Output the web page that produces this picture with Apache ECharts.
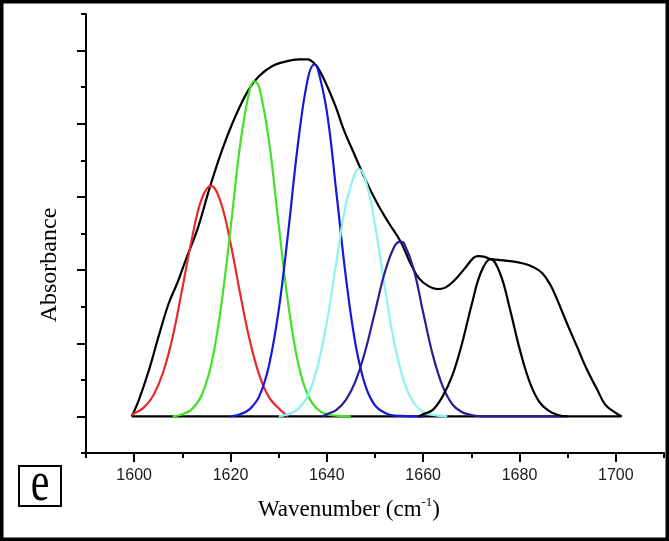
<!DOCTYPE html>
<html>
<head>
<meta charset="utf-8">
<script src="https://cdn.jsdelivr.net/npm/echarts@6/dist/echarts.min.js"></script>
<style>
html,body{margin:0;padding:0;background:#fff;}
#c{width:669px;height:541px;}
</style>
</head>
<body>
<div id="c"></div>
<script>
// ---- data (wavenumber cm-1, absorbance a.u.) ----
const xMajorTicks = [1600, 1620, 1640, 1660, 1680, 1700];
const yMajorTicks = [0, 1, 2, 3, 4, 5];

const baseline = [[1599.5, 0], [1701.2, 0]];

const envelope = [
  [1599.5, 0], [1601.0, 0.23], [1603.1, 0.64], [1605.1, 1.10], [1607.2, 1.55],
  [1609.0, 1.83], [1611.0, 2.19], [1613.1, 2.55], [1615.8, 3.15], [1618.3, 3.65],
  [1621.0, 4.10], [1623.8, 4.47], [1625.9, 4.65], [1628.7, 4.79], [1631.4, 4.85],
  [1634.2, 4.88], [1636.0, 4.88], [1637.6, 4.81], [1638.7, 4.70], [1640.1, 4.51],
  [1641.8, 4.24], [1643.5, 3.92], [1645.6, 3.60], [1648.0, 3.24], [1650.4, 2.92],
  [1652.8, 2.65], [1655.3, 2.39], [1657.3, 2.10], [1659.1, 1.89], [1661.1, 1.78],
  [1662.9, 1.74], [1664.6, 1.76], [1666.5, 1.86], [1668.6, 2.02], [1670.5, 2.17],
  [1671.5, 2.19], [1672.8, 2.18], [1674.0, 2.15], [1675.5, 2.14], [1678.5, 2.12],
  [1680.8, 2.09], [1682.9, 2.04], [1684.7, 1.96], [1686.4, 1.80], [1687.8, 1.60],
  [1689.8, 1.28], [1691.9, 0.96], [1694.0, 0.64], [1696.1, 0.37], [1697.8, 0.16],
  [1699.5, 0.07], [1701.2, 0]
];

const band1616 = [
  [1599.5, 0.02], [1600, 0.04], [1602, 0.12], [1604, 0.29], [1606, 0.60], [1608, 1.09],
  [1610, 1.75], [1612, 2.43], [1614, 2.97], [1616, 3.15], [1618, 2.92], [1620, 2.37],
  [1622, 1.68], [1624, 1.04], [1626, 0.56], [1628, 0.26], [1630, 0.11], [1631, 0.05], [1632, 0]
];

const band1625 = [
  [1608, 0], [1610, 0.03], [1612, 0.10], [1614, 0.29], [1616, 0.71], [1618, 1.48],
  [1620, 2.56], [1622, 3.71], [1624, 4.47], [1625, 4.58], [1626, 4.49], [1628, 3.76],
  [1630, 2.62], [1632, 1.53], [1634, 0.74], [1636, 0.30], [1638, 0.10], [1640, 0.03],
  [1642, 0.01], [1645, 0]
];

const band1637 = [
  [1620, 0], [1622, 0.03], [1624, 0.10], [1626, 0.28], [1628, 0.70], [1630, 1.45],
  [1632, 2.53], [1634, 3.72], [1636, 4.60], [1637.4, 4.81], [1638, 4.78], [1640, 4.17],
  [1642, 3.05], [1644, 1.88], [1646, 0.97], [1648, 0.42], [1650, 0.15], [1652, 0.05],
  [1654, 0.01], [1660, 0]
];

const band1647 = [
  [1630, 0], [1632, 0.03], [1634, 0.10], [1636, 0.28], [1638, 0.66], [1640, 1.29],
  [1642, 2.12], [1644, 2.91], [1646, 3.35], [1646.6, 3.38], [1648, 3.24], [1650, 2.62],
  [1652, 1.78], [1654, 1.01], [1656, 0.48], [1658, 0.19], [1660, 0.06], [1662, 0.02], [1665, 0]
];

const band1655 = [
  [1639, 0], [1640, 0.03], [1642, 0.09], [1644, 0.23], [1646, 0.49], [1648, 0.90],
  [1650, 1.43], [1652, 1.96], [1654, 2.32], [1655.3, 2.39], [1656, 2.37], [1658, 2.02],
  [1660, 1.42], [1662, 0.84], [1664, 0.42], [1666, 0.17], [1668, 0.06], [1670, 0.02],
  [1672, 0], [1689, 0]
];

const band1674 = [
  [1659, 0], [1660, 0.03], [1662, 0.09], [1664, 0.27], [1666, 0.55], [1668, 0.98],
  [1670, 1.51], [1672, 1.97], [1674, 2.15], [1676, 1.95], [1678, 1.47], [1680, 0.93],
  [1682, 0.49], [1684, 0.21], [1686, 0.08], [1688, 0.02], [1690, 0]
];

// ---- chart ----
const serif = "'Liberation Serif', 'Times New Roman', serif";
const chart = echarts.init(document.getElementById('c'));

function band(data, color, z) {
  return {
    type: 'line', data: data, xAxisIndex: 0, yAxisIndex: 0,
    showSymbol: false, symbol: 'none', smooth: 0.4, z: z,
    lineStyle: { color: color, width: 2.2 }, silent: true, animation: false
  };
}

const axisCommonX = {
  type: 'value', min: 1590, max: 1710, interval: 10, position: 'bottom',
  splitLine: { show: false }
};
const axisCommonY = {
  type: 'value', min: -0.5, max: 5.5, interval: 0.5, position: 'left',
  splitLine: { show: false }
};

chart.setOption({
  animation: false,
  backgroundColor: '#fff',
  grid: { left: 86, right: 5, top: 14, bottom: 88, containLabel: false },
  xAxis: [
    Object.assign({}, axisCommonX, {
      axisLine: { show: true, onZero: false, lineStyle: { color: '#000', width: 2 } },
      axisTick: { show: true, length: 5, lineStyle: { color: '#000', width: 2 } },
      axisLabel: { show: false }
    }),
    Object.assign({}, axisCommonX, {
      axisLine: { show: false, onZero: false },
      axisTick: { show: true, length: 9, customValues: xMajorTicks, lineStyle: { color: '#000', width: 2 } },
      axisLabel: { show: true, customValues: xMajorTicks, fontSize: 16, color: '#1a1a1a',
        fontFamily: "'Liberation Sans', Arial, sans-serif", margin: 15,
        formatter: function (v) { return String(v); } }
    })
  ],
  yAxis: [
    Object.assign({}, axisCommonY, {
      axisLine: { show: true, onZero: false, lineStyle: { color: '#000', width: 2 } },
      axisTick: { show: true, length: 5, lineStyle: { color: '#000', width: 2 } },
      axisLabel: { show: false }
    }),
    Object.assign({}, axisCommonY, {
      axisLine: { show: false, onZero: false },
      axisTick: { show: true, length: 9, customValues: yMajorTicks, lineStyle: { color: '#000', width: 2 } },
      axisLabel: { show: false }
    })
  ],
  series: [
    band(baseline, '#000000', 1),
    band(envelope, '#000000', 2),
    band(band1616, '#e52a2a', 3),
    band(band1625, '#45e02a', 3),
    band(band1637, '#1818d8', 3),
    band(band1647, '#8ef2f2', 3),
    band(band1655, '#2c1c96', 3),
    band(band1674, '#000000', 3)
  ],
  graphic: [
    { type: 'rect', shape: { x: 1.75, y: 1.75, width: 665.5, height: 537.5 },
      style: { fill: 'none', stroke: '#000', lineWidth: 3.5 }, silent: true },
    { type: 'rect', shape: { x: 19, y: 466, width: 42, height: 40 },
      style: { fill: 'none', stroke: '#000', lineWidth: 2 }, silent: true },
    { type: 'text', x: 40, y: 485, scaleY: 1.35,
      style: { text: 'e', font: "42px " + serif, fill: '#000', textAlign: 'center', textVerticalAlign: 'middle' }, silent: true },
    { type: 'text', x: 349, y: 510,
      style: {
        text: '{a|Wavenumber (cm}{s|-1}{a|)}', textAlign: 'center', textVerticalAlign: 'middle',
        rich: {
          a: { fontFamily: serif, fontSize: 23, lineHeight: 28, fill: '#000', color: '#000' },
          s: { fontFamily: serif, fontSize: 13, lineHeight: 14, verticalAlign: 'top', color: '#000', fill: '#000' }
        }
      }, silent: true },
    { type: 'text', x: 50, y: 265, rotation: Math.PI / 2,
      style: { text: 'Absorbance', font: "24px " + serif, fill: '#000', textAlign: 'center', textVerticalAlign: 'middle' }, silent: true }
  ]
});
</script>
</body>
</html>
